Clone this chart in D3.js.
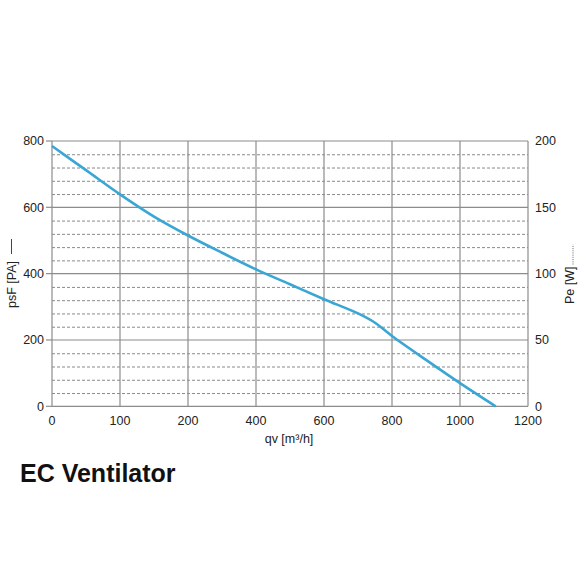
<!DOCTYPE html>
<html>
<head>
<meta charset="utf-8">
<script src="https://cdn.jsdelivr.net/npm/d3@7"></script>
<style>
  html, body { margin: 0; padding: 0; background: #fff; }
  svg { display: block; }
  text { font-family: "Liberation Sans", Arial, sans-serif; }
</style>
</head>
<body>
<svg id="chart" width="580" height="580"></svg>
<script>
// ---- data ----
const xTicks = [0, 100, 200, 400, 600, 800, 1000, 1200];   // qv axis labels (as printed, evenly spaced)
const yTicksLeft = [0, 200, 400, 600, 800];                 // psF [PA]
const yTicksRight = [0, 50, 100, 150, 200];                 // Pe [W]
const qv  = [0, 50, 100, 150, 200, 300, 400, 500, 600, 700, 750, 800, 900, 1000, 1105];
const psf = [785, 712, 639, 572, 515, 463, 413, 368, 323, 280, 252, 212, 140, 70, 0];
const chartTitle = "EC Ventilator";

// ---- layout ----
const x0 = 52, x1 = 528, yTop = 141, yBot = 406.3;
const svg = d3.select("#chart");

const x = d3.scaleLinear()
  .domain(xTicks)
  .range(xTicks.map((d, i) => x0 + i * (x1 - x0) / (xTicks.length - 1)));
const y = d3.scaleLinear().domain([0, 800]).range([yBot, yTop]);
const yR = d3.scaleLinear().domain([0, 200]).range([yBot, yTop]);

const gridColor = "#8c8c8c";

// minor dashed horizontal lines every 40
const minor = d3.range(40, 800, 40).filter(v => v % 200 !== 0);
svg.append("g").selectAll("line").data(minor).join("line")
  .attr("x1", x0).attr("x2", x1)
  .attr("y1", d => y(d) + 0.5).attr("y2", d => y(d) + 0.5)
  .attr("stroke", "#8a8a8a").attr("stroke-width", 1)
  .attr("stroke-dasharray", "3,2");

// major horizontal solid lines
svg.append("g").selectAll("line").data(yTicksLeft).join("line")
  .attr("x1", x0).attr("x2", x1)
  .attr("y1", d => y(d)).attr("y2", d => y(d))
  .attr("stroke", gridColor).attr("stroke-width", 1.2);

// vertical solid lines
svg.append("g").selectAll("line").data(xTicks).join("line")
  .attr("x1", d => x(d)).attr("x2", d => x(d))
  .attr("y1", yTop).attr("y2", yBot)
  .attr("stroke", gridColor).attr("stroke-width", 1.2);

// left ticks
svg.append("g").selectAll("line").data(yTicksLeft).join("line")
  .attr("x1", x0 - 6).attr("x2", x0)
  .attr("y1", d => y(d)).attr("y2", d => y(d))
  .attr("stroke", gridColor).attr("stroke-width", 1.2);

// left tick labels
svg.append("g").selectAll("text").data(yTicksLeft).join("text")
  .attr("x", 44).attr("y", d => y(d)).attr("dy", "0.35em")
  .attr("text-anchor", "end").attr("font-size", 12.5).attr("fill", "#222")
  .text(d => d);

// right tick labels
svg.append("g").selectAll("text").data(yTicksRight).join("text")
  .attr("x", 535).attr("y", d => yR(d)).attr("dy", "0.35em")
  .attr("text-anchor", "start").attr("font-size", 12.5).attr("fill", "#222")
  .text(d => d);

// bottom tick labels
svg.append("g").selectAll("text").data(xTicks).join("text")
  .attr("x", d => x(d)).attr("y", 425)
  .attr("text-anchor", "middle").attr("font-size", 12.5).attr("fill", "#222")
  .text(d => d);

// x axis title
svg.append("text").attr("x", 289).attr("y", 443)
  .attr("text-anchor", "middle").attr("font-size", 12.5).attr("fill", "#222")
  .text("qv [m³/h]");

// left axis title with solid legend line
const lt = svg.append("g").attr("transform", "translate(16,308) rotate(-90)");
const ltText = lt.append("text").attr("x", 0).attr("y", 0)
  .attr("font-size", 12.5).attr("fill", "#222").text("psF [PA]");
const ltw = ltText.node().getComputedTextLength();
lt.append("line").attr("x1", ltw + 7).attr("x2", ltw + 22)
  .attr("y1", -4.5).attr("y2", -4.5).attr("stroke", "#444").attr("stroke-width", 1);

// right axis title with dotted legend line
const rt = svg.append("g").attr("transform", "translate(574,304) rotate(-90)");
const rtText = rt.append("text").attr("x", 0).attr("y", 0)
  .attr("font-size", 12.5).attr("fill", "#222").text("Pe [W]");
const rtw = rtText.node().getComputedTextLength();
rt.append("line").attr("x1", rtw + 2).attr("x2", rtw + 22)
  .attr("y1", -1).attr("y2", -1).attr("stroke", "#666").attr("stroke-width", 1)
  .attr("stroke-dasharray", "1,1.2");

// curve
const pts = qv.map((d, i) => [d, psf[i]]);
svg.append("path").datum(pts)
  .attr("fill", "none").attr("stroke", "#3aa6d6").attr("stroke-width", 2.6)
  .attr("stroke-linecap", "butt")
  .attr("d", d3.line().x(d => x(d[0])).y(d => y(d[1])).curve(d3.curveCatmullRom.alpha(0.5)));

// title
svg.append("text").attr("x", 20).attr("y", 482)
  .attr("font-size", 25).attr("font-weight", "bold").attr("fill", "#111")
  .text(chartTitle);
</script>
</body>
</html>
